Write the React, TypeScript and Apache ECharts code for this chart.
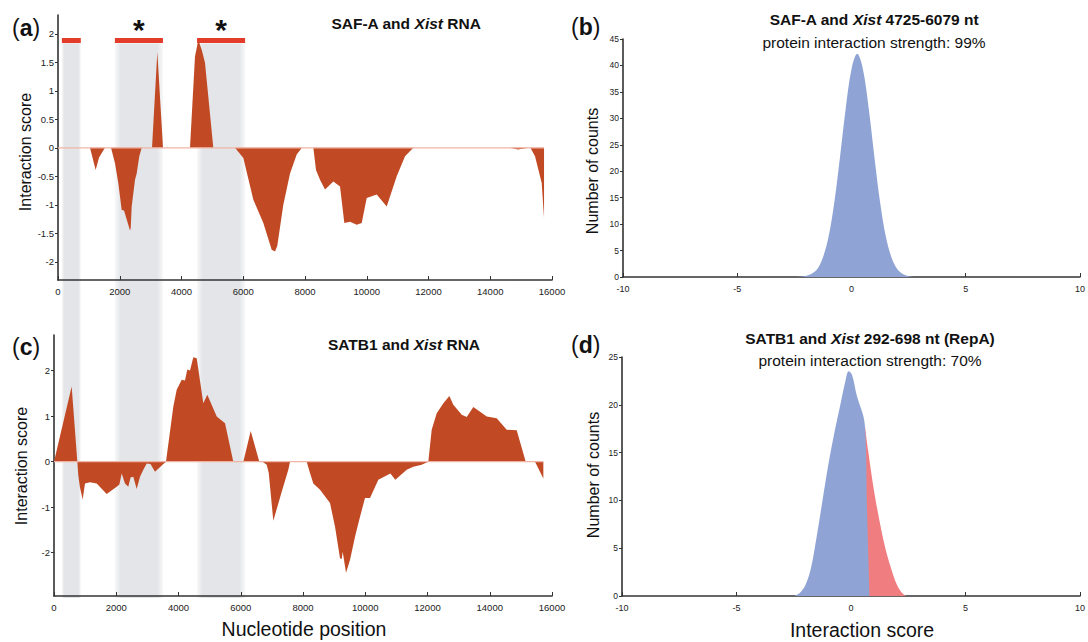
import React, { useEffect, useRef } from "react";
import * as echarts from "echarts";

const FONT = '"Liberation Sans", Arial, Helvetica, sans-serif';

// ---- (a) SAF-A and Xist RNA : interaction profile ----
const safPos = [0, 1000, 1036, 1220, 1330, 1520, 1717, 1846, 1953, 2063, 2138, 2225, 2332, 2355, 2387, 2439, 2494, 2549, 2633, 2711,
  3045, 3217, 3401, 4275, 4437, 4544, 4655, 4761, 4868, 5030, 5733, 6003, 6327, 6651, 6921, 7029, 7103, 7298, 7515, 7731, 7900,
  8270, 8357, 8486, 8648, 8918, 9134, 9274, 9458, 9675, 9837, 9999, 10323, 10647, 10971, 11240, 11509, 14640, 14900, 15225, 15300,
  15450, 15667, 15742];
const safScore = [0, 0, 0, -0.39, -0.17, 0, 0, -0.27, -0.62, -1.09, -1.1, -1.26, -1.45, -1.41, -1.03, -0.8, -0.56, -0.45, -0.15, 0,
  0, 1.68, 0, 0, 1.6, 1.89, 1.72, 1.49, 0.9, 0, 0, -0.18, -0.91, -1.32, -1.79, -1.82, -1.72, -1.0, -0.45, -0.12, 0,
  0, -0.39, -0.56, -0.73, -0.59, -0.68, -1.32, -1.3, -1.35, -1.32, -0.88, -0.82, -1.03, -0.5, -0.15, 0, 0, -0.03, 0, 0,
  -0.15, -0.62, -1.23];

// ---- (c) SATB1 and Xist RNA : interaction profile ----
const satbPos = [0, 568, 750, 780, 830, 921, 996, 1157, 1372, 1693, 2014, 2100, 2175, 2281, 2387, 2460, 2548, 2657, 2763, 2870,
  2978, 3100, 3245, 3512, 3598, 3834, 3942, 4103, 4209, 4283, 4370, 4476, 4585, 4797, 4926, 5228, 5495, 5761, 6083, 6320, 6597,
  6700, 6834, 6900, 7046, 7300, 7528, 7583, 8119, 8225, 8331, 8547, 8868, 9029, 9189, 9243, 9276, 9382, 9510, 9671, 9832, 9992,
  10153, 10420, 10806, 10966, 11332, 11545, 11814, 12026, 12135, 12296, 12510, 12702, 12830, 13100, 13260, 13473, 13903, 14224,
  14545, 14866, 15156, 15455, 15722];
const satbScore = [0, 1.65, 0, -0.3, -0.55, -0.83, -0.48, -0.45, -0.48, -0.71, -0.55, -0.5, -0.26, -0.48, -0.55, -0.35, -0.33, -0.6, -0.33, -0.18,
  -0.04, -0.05, -0.22, -0.05, 0, 1.21, 1.58, 1.8, 1.78, 2.02, 2.0, 2.29, 2.27, 1.28, 1.47, 0.99, 0.84, 0, 0, 0.67, 0,
  0, -0.07, -0.25, -1.3, -0.7, -0.18, 0, 0, -0.25, -0.48, -0.62, -0.91, -1.43, -2.12, -2.14, -1.98, -2.44, -2.16, -1.65, -1.21, -0.8,
  -0.8, -0.4, -0.26, -0.4, -0.18, -0.11, -0.07, 0, 0.7, 1.06, 1.28, 1.44, 1.25, 1.03, 0.98, 1.2, 0.99, 0.95,
  0.7, 0.69, 0, 0, -0.37];

// ---- highlighted regions (grey bands, red bars, asterisks) ----
const bandStart = [190, 1900, 4550];
const bandEnd = [800, 3450, 6100];
const bandStarred = [false, true, true];

// ---- (b) SAF-A and Xist 4725-6079 nt : score distribution ----
const safaHistX = [-2.5, -2.25, -2, -1.75, -1.5, -1.25, -1, -0.75, -0.5, -0.25, 0, 0.25, 0.5, 0.75, 1, 1.25, 1.5, 1.75, 2, 2.25, 2.5, 2.75];
const safaHistCount = [0, 0.05, 0.2, 0.6, 1.5, 3.7, 7.7, 14.2, 22.8, 32, 39.3, 42.2, 39.3, 32, 22.8, 14.2, 7.7, 3.7, 1.5, 0.55, 0.15, 0];

// ---- (d) SATB1 and Xist 292-698 nt (RepA) : score distribution ----
const repaHistX = [-2.5, -2.25, -2, -1.75, -1.5, -1.25, -1, -0.75, -0.5, -0.25, -0.1, 0.05, 0.25, 0.6, 0.75, 1, 1.25, 1.5, 1.75, 2, 2.25, 2.4];
const repaHistCount = [0, 0.3, 1.1, 2.9, 6.2, 9.9, 13.6, 16.8, 19.6, 22.4, 23.5, 23.1, 21.0, 18.0, 15.2, 11.1, 7.8, 5.0, 2.9, 1.2, 0.25, 0];
const repaSplitX = [0.7, 0.81];
const repaSplitCount = [9, 0];
const repaSplitStart = 0.6;

const safYTicks = [-2, -1.5, -1, -0.5, 0, 0.5, 1, 1.5, 2];
const satbYTicks = [-2, -1, 0, 1, 2];

const BROWN = "#c14a25";
const ZERO = "#f0b4a4";
const BLUE = "#8fa4d4";
const RED = "#f07e80";
const AX = "#333";

const zip = (xs: number[], ys: number[]) => xs.map((x, i) => [x, ys[i]]);

function profileX(grid: number) {
  return {
    gridIndex: grid, type: "value", min: 0, max: 16000, interval: 2000,
    axisLine: { onZero: false, lineStyle: { color: AX, width: 1.6 } },
    axisTick: { inside: true, length: 4, lineStyle: { color: AX, width: 1 } },
    axisLabel: { fontSize: 9.5, color: "#222", margin: 6, fontFamily: FONT, formatter: (v: number) => String(v) },
    splitLine: { show: false },
  };
}
function profileY(grid: number, min: number, max: number, ticks: number[]) {
  return {
    gridIndex: grid, type: "value", min, max,
    axisLine: { show: true, onZero: false, lineStyle: { color: AX, width: 1.6 } },
    axisTick: { show: true, length: 3, customValues: ticks, lineStyle: { color: AX } },
    axisLabel: { customValues: ticks, fontSize: 9.5, color: "#222", margin: 4, fontFamily: FONT },
    splitLine: { show: false },
  };
}
function histX(grid: number) {
  return {
    gridIndex: grid, type: "value", min: -10, max: 10, interval: 5,
    axisLine: { onZero: false, lineStyle: { color: AX, width: 1.6 } },
    axisTick: { inside: true, length: 4, lineStyle: { color: AX } },
    axisLabel: { fontSize: 9, color: "#222", margin: 7, fontFamily: FONT },
    splitLine: { show: false },
  };
}
function histY(grid: number, max: number) {
  return {
    gridIndex: grid, type: "value", min: 0, max, interval: 5,
    axisLine: { show: true, onZero: false, lineStyle: { color: AX, width: 1.6 } },
    axisTick: { show: true, length: 3, lineStyle: { color: AX } },
    axisLabel: { fontSize: 8.5, color: "#222", margin: 4, fontFamily: FONT },
    splitLine: { show: false },
  };
}

function txt(x: number, y: number, text: string, size: number, opts: any = {}) {
  return {
    type: "text", x, y, rotation: opts.rotation || 0, silent: true,
    style: {
      text, fontSize: size, fontFamily: FONT, fontWeight: opts.weight || "normal",
      fill: "#111", align: opts.align || "center", verticalAlign: "middle", rich: opts.rich,
    },
  };
}
function panelLabel(x: number, y: number, letter: string) {
  return txt(x, y, `{p|(}{b|${letter}}{p|)}`, 23, {
    align: "left",
    rich: {
      p: { fontSize: 23, fontFamily: FONT, fill: "#111", color: "#111" },
      b: { fontSize: 23, fontFamily: FONT, fontWeight: "bold", fill: "#111", color: "#111" },
    },
  });
}
function title(x: number, y: number, before: string, after: string) {
  return txt(x, y, `{b|${before}}{i|Xist}{b|${after}}`, 15.5, {
    rich: {
      b: { fontSize: 15.5, fontFamily: FONT, fontWeight: "bold", fill: "#111", color: "#111" },
      i: { fontSize: 15.5, fontFamily: FONT, fontWeight: "bold", fontStyle: "italic", fill: "#111", color: "#111" },
    },
  });
}

export default function App() {
  const ref = useRef<HTMLDivElement>(null);
  useEffect(() => {
    const chart = echarts.init(ref.current!, null, { renderer: "svg", width: 1088, height: 642 });
    const bandGrad = () =>
      new echarts.graphic.LinearGradient(0, 0, 1, 0, [
        { offset: 0, color: "rgba(227,229,232,0.25)" },
        { offset: 0.12, color: "#e3e5e8" },
        { offset: 0.88, color: "#e3e5e8" },
        { offset: 1, color: "rgba(227,229,232,0.25)" },
      ]);
    const bandAreas = bandStart.map((s, i) => [
      { xAxis: s, yAxis: 0, itemStyle: { color: bandGrad() } },
      { xAxis: bandEnd[i], yAxis: 99 },
    ]);
    const barAreas = bandStart.map((s, i) => [
      {
        xAxis: s, yAxis: 99.1, itemStyle: { color: "#e43c2b" },
        label: {
          show: bandStarred[i], position: "top", distance: -6, formatter: "*",
          fontSize: 30, fontWeight: "bold", color: "#111", fontFamily: FONT,
        },
      },
      { xAxis: bandEnd[i], yAxis: 100 },
    ]);

    const repaAll = zip(repaHistX, repaHistCount);
    const repaBlue = repaAll.filter((p) => p[0] <= repaSplitStart).concat(zip(repaSplitX, repaSplitCount));
    const repaRed = repaAll.filter((p) => p[0] >= repaSplitStart);

    const option: any = {
      animation: false,
      backgroundColor: "#fff",
      textStyle: { fontFamily: FONT },
      grid: [
        { left: 58, top: 15, width: 494, height: 265 },
        { left: 54, top: 335, width: 498, height: 261 },
        { left: 623, top: 39, width: 464, height: 238 },
        { left: 622, top: 357, width: 462, height: 239 },
        { left: 56, top: 38, width: 496, height: 560 },
      ],
      xAxis: [
        profileX(0), profileX(1), histX(2), histX(3),
        { gridIndex: 4, type: "value", min: 0, max: 16000, show: false },
      ],
      yAxis: [
        profileY(0, -2.32, 2.33, safYTicks),
        profileY(1, -2.95, 2.78, satbYTicks),
        histY(2, 45), histY(3, 25),
        { gridIndex: 4, type: "value", min: 0, max: 100, show: false },
      ],
      series: [
        {
          type: "line", xAxisIndex: 4, yAxisIndex: 4, data: [], silent: true,
          markArea: { silent: true, z: -1, data: bandAreas.concat(barAreas) },
        },
        {
          type: "line", xAxisIndex: 0, yAxisIndex: 0, data: zip(safPos, safScore), symbol: "none",
          lineStyle: { width: 0 }, areaStyle: { color: BROWN, opacity: 1 }, z: 3, silent: true,
        },
        {
          type: "line", xAxisIndex: 0, yAxisIndex: 0, data: [[0, 0], [safPos[safPos.length - 1], 0]], symbol: "none",
          lineStyle: { width: 1.2, color: ZERO }, z: 4, silent: true,
        },
        {
          type: "line", xAxisIndex: 1, yAxisIndex: 1, data: zip(satbPos, satbScore), symbol: "none",
          lineStyle: { width: 0 }, areaStyle: { color: BROWN, opacity: 1 }, z: 3, silent: true,
        },
        {
          type: "line", xAxisIndex: 1, yAxisIndex: 1, data: [[0, 0], [satbPos[satbPos.length - 1], 0]], symbol: "none",
          lineStyle: { width: 1.2, color: ZERO }, z: 4, silent: true,
        },
        {
          type: "line", xAxisIndex: 2, yAxisIndex: 2, data: zip(safaHistX, safaHistCount), symbol: "none", smooth: 0.35,
          lineStyle: { width: 0 }, areaStyle: { color: BLUE, opacity: 1 }, z: 3, silent: true,
        },
        {
          type: "line", xAxisIndex: 3, yAxisIndex: 3, data: repaRed, symbol: "none", smooth: 0.35,
          lineStyle: { width: 0 }, areaStyle: { color: RED, opacity: 1 }, z: 3, silent: true,
        },
        {
          type: "line", xAxisIndex: 3, yAxisIndex: 3, data: repaBlue, symbol: "none", smooth: 0.35,
          lineStyle: { width: 0 }, areaStyle: { color: BLUE, opacity: 1 }, z: 4, silent: true,
        },
      ],
      graphic: [
        panelLabel(12, 28, "a"),
        panelLabel(571, 27, "b"),
        panelLabel(12, 347, "c"),
        panelLabel(571, 345, "d"),
        title(406, 23, "SAF-A and ", " RNA"),
        title(404, 344, "SATB1 and ", " RNA"),
        title(874, 19, "SAF-A and ", " 4725-6079 nt"),
        txt(874, 42, "protein interaction strength: 99%", 15.5),
        title(870, 338, "SATB1 and ", " 292-698 nt (RepA)"),
        txt(870, 360, "protein interaction strength: 70%", 15.5),
        txt(25, 152, "Interaction score", 16, { rotation: Math.PI / 2 }),
        txt(21, 466, "Interaction score", 16, { rotation: Math.PI / 2 }),
        txt(592, 171, "Number of counts", 16, { rotation: Math.PI / 2 }),
        txt(593, 475, "Number of counts", 16, { rotation: Math.PI / 2 }),
        txt(304, 629, "Nucleotide position", 19.5),
        txt(862, 630, "Interaction score", 19.5),
      ],
    };
    chart.setOption(option);
    return () => chart.dispose();
  }, []);
  return (
    <div
      ref={ref}
      style={{ position: "fixed", left: 0, top: 0, width: 1088, height: 642, background: "#fff" }}
    />
  );
}
